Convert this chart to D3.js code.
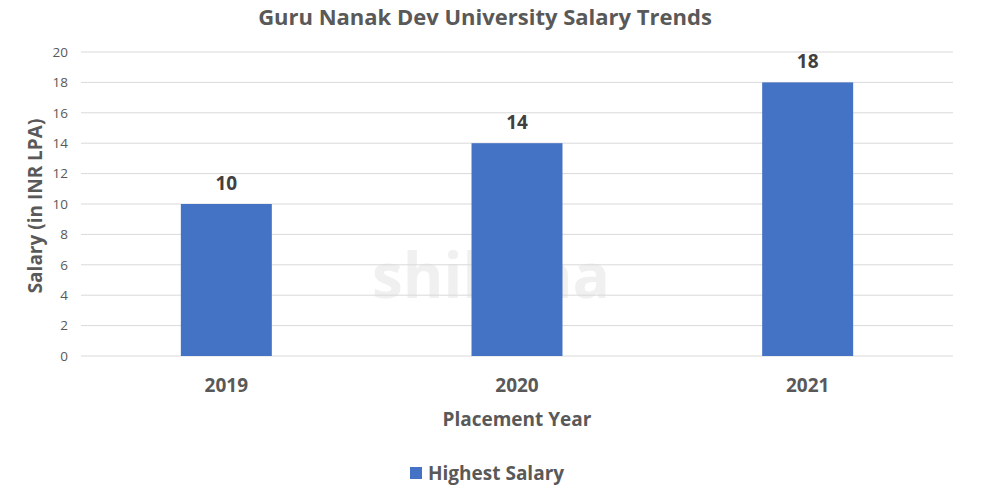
<!DOCTYPE html>
<html>
<head>
<meta charset="utf-8">
<script src="https://cdn.jsdelivr.net/npm/d3@7"></script>
<style>
  body { margin: 0; background: #fff; }
  text { font-family: "Open Sans", sans-serif; }
</style>
</head>
<body>
<div id="chart"></div>
<script>
var years = ["2019", "2020", "2021"];
var highestSalary = [10, 14, 18];
var yTicks = [0, 2, 4, 6, 8, 10, 12, 14, 16, 18, 20];
var seriesName = "Highest Salary";

var W = 999, H = 494,
    margin = {top: 52, bottom: 138, left: 81, right: 46};

var svg = d3.select("#chart").append("svg")
    .attr("width", W)
    .attr("height", H);

var x = d3.scaleBand()
    .domain(years)
    .range([margin.left, W - margin.right])
    .paddingInner(0.687)
    .paddingOuter(0.3435);

var y = d3.scaleLinear()
    .domain([0, 20])
    .range([H - margin.bottom, margin.top]);

// faint watermark behind the bars
svg.append("text")
    .attr("x", 372).attr("y", 298)
    .attr("font-size", 62).attr("font-weight", 700)
    .attr("fill", "#f0f0f0")
    .text("shiksha");

// gridlines
svg.append("g")
    .selectAll("line")
    .data(yTicks)
    .enter().append("line")
    .attr("x1", margin.left)
    .attr("x2", W - margin.right)
    .attr("y1", function(d) { return y(d); })
    .attr("y2", function(d) { return y(d); })
    .attr("stroke", "#d9d9d9")
    .attr("stroke-width", 1);

// y axis labels
svg.append("g")
    .selectAll("text")
    .data(yTicks)
    .enter().append("text")
    .attr("x", 68)
    .attr("y", function(d) { return y(d); })
    .attr("dy", "0.35em")
    .attr("text-anchor", "end")
    .attr("font-size", 13.5)
    .attr("fill", "#595959")
    .text(function(d) { return d; });

// bars
svg.append("g")
    .selectAll("rect")
    .data(highestSalary)
    .enter().append("rect")
    .attr("x", function(d, i) { return x(years[i]); })
    .attr("y", function(d) { return y(d); })
    .attr("width", x.bandwidth())
    .attr("height", function(d) { return y(0) - y(d); })
    .attr("fill", "#4472c4");

// value labels
svg.append("g")
    .selectAll("text")
    .data(highestSalary)
    .enter().append("text")
    .attr("x", function(d, i) { return x(years[i]) + x.bandwidth() / 2; })
    .attr("y", function(d) { return y(d) - 14; })
    .attr("text-anchor", "middle")
    .attr("font-size", 19)
    .attr("font-weight", 700)
    .attr("fill", "#404040")
    .text(function(d) { return d; });

// x labels
svg.append("g")
    .selectAll("text")
    .data(years)
    .enter().append("text")
    .attr("x", function(d) { return x(d) + x.bandwidth() / 2; })
    .attr("y", 392)
    .attr("text-anchor", "middle")
    .attr("font-size", 19)
    .attr("font-weight", 700)
    .attr("fill", "#595959")
    .text(function(d) { return d; });

// title
svg.append("text")
    .attr("x", 485).attr("y", 25)
    .attr("text-anchor", "middle")
    .attr("font-size", 22)
    .attr("font-weight", 700)
    .attr("fill", "#595959")
    .text("Guru Nanak Dev University Salary Trends");

// axis titles
svg.append("text")
    .attr("x", 517).attr("y", 426)
    .attr("text-anchor", "middle")
    .attr("font-size", 19)
    .attr("font-weight", 700)
    .attr("fill", "#595959")
    .text("Placement Year");

svg.append("text")
    .attr("transform", "translate(42," + 206 + ") rotate(-90)")
    .attr("text-anchor", "middle")
    .attr("font-size", 19)
    .attr("font-weight", 700)
    .attr("fill", "#595959")
    .text("Salary (in INR LPA)");

// legend
var legend = svg.append("g");
legend.append("rect")
    .attr("x", 410).attr("y", 467)
    .attr("width", 12).attr("height", 12)
    .attr("fill", "#4472c4");
legend.append("text")
    .attr("x", 428).attr("y", 480)
    .attr("font-size", 19)
    .attr("font-weight", 700)
    .attr("fill", "#595959")
    .text(seriesName);
</script>
</body>
</html>
